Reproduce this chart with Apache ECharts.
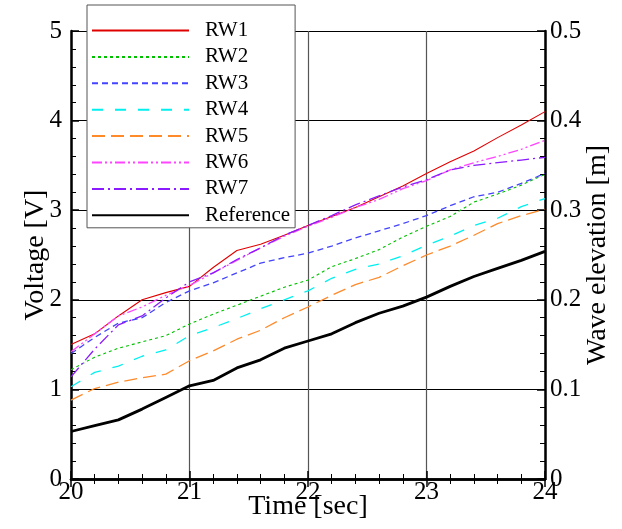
<!DOCTYPE html>
<html>
<head>
<meta charset="utf-8">
<script src="https://cdn.jsdelivr.net/npm/echarts@6/dist/echarts.min.js"></script>
<style>
html,body{margin:0;padding:0;background:#fff;}
#chart{width:622px;height:529px;}
</style>
</head>
<body>
<div id="chart"></div>
<script>
const time = [20.0,20.2,20.4,20.6,20.8,21.0,21.2,21.4,21.6,21.8,22.0,22.2,22.4,22.6,22.8,23.0,23.2,23.4,23.6,23.8,24.0];
const seriesNames = ['RW1','RW2','RW3','RW4','RW5','RW6','RW7','Reference'];
const rw1 = [1.50,1.62,1.82,2.00,2.08,2.15,2.36,2.55,2.62,2.72,2.83,2.93,3.03,3.15,3.27,3.41,3.54,3.66,3.81,3.95,4.10];
const rw2 = [1.22,1.36,1.46,1.53,1.60,1.73,1.84,1.94,2.04,2.14,2.22,2.37,2.46,2.56,2.70,2.82,2.93,3.09,3.18,3.28,3.40];
const rw3 = [1.40,1.58,1.74,1.80,1.97,2.10,2.19,2.30,2.41,2.47,2.52,2.60,2.69,2.77,2.85,2.94,3.05,3.15,3.20,3.30,3.41];
const rw4 = [1.03,1.19,1.26,1.37,1.44,1.60,1.69,1.79,1.90,2.00,2.10,2.24,2.34,2.40,2.49,2.61,2.71,2.83,2.91,3.04,3.13];
const rw5 = [0.88,1.01,1.08,1.13,1.17,1.32,1.43,1.56,1.66,1.80,1.92,2.05,2.17,2.25,2.38,2.50,2.60,2.72,2.85,2.94,3.01];
const rw6 = [1.42,1.62,1.82,1.92,2.05,2.16,2.30,2.44,2.58,2.71,2.82,2.92,3.03,3.12,3.24,3.33,3.45,3.53,3.60,3.68,3.78];
const rw7 = [1.14,1.45,1.72,1.82,2.02,2.20,2.30,2.45,2.58,2.72,2.83,2.94,3.06,3.16,3.26,3.34,3.45,3.50,3.53,3.56,3.59];
const reference = [0.53,0.595,0.66,0.78,0.91,1.04,1.10,1.24,1.33,1.46,1.54,1.62,1.745,1.85,1.93,2.03,2.15,2.26,2.35,2.44,2.54];
const voltageTicks = [0,1,2,3,4,5];
const waveTicks = [0,0.1,0.2,0.3,0.4,0.5];
const timeTicks = [20,21,22,23,24];

const values = [rw1,rw2,rw3,rw4,rw5,rw6,rw7,reference];
const colors = ['#e00000','#00c000','#4444ff','#00f0f0','#ff8a2a','#ff44ff','#8a1aff','#000000'];
const dashes = ['solid',[3,3],[6,4],[11,12],[13,6],[10,3,2,3,2,3],[12,4,2,4],'solid'];
const widths = [1.1,1.1,1.3,1.3,1.3,1.3,1.3,2.8];

const FONT = 'Liberation Serif';
const chart = echarts.init(document.getElementById('chart'));

const series = seriesNames.map((n,k)=>({
  name:n, type:'line', symbol:'none', xAxisIndex:0, yAxisIndex:0,
  data: time.map((t,i)=>[t, values[k][i]]),
  lineStyle:{color:colors[k], width:widths[k], type:dashes[k]},
  itemStyle:{color:colors[k]},
  z: k===7 ? 3 : 2
}));

const tickCommon = {inside:true, length:8, lineStyle:{color:'#000', width:1.5}};
const minorCommon = {show:true, splitNumber:5, length:5, lineStyle:{color:'#000', width:1}};
const axisLineCommon = {show:true, lineStyle:{color:'#000', width:2.5}};

chart.setOption({
  animation:false,
  backgroundColor:'#fff',
  grid:{left:71, right:77, top:31, bottom:50, containLabel:false, outerBoundsMode:'none'},
  legend:{
    data:seriesNames, orient:'vertical', left:87, top:5,
    selectedMode:false,
    backgroundColor:'#fff', borderColor:'#555', borderWidth:1,
    padding:[15,5,2,4],
    itemWidth:97, itemHeight:14, itemGap:5.4,
    itemStyle:{color:'rgba(0,0,0,0)', borderWidth:0, opacity:0},
    textStyle:{fontFamily:FONT, fontSize:21, color:'#000', lineHeight:20, padding:[0,0,0,11]}
  },
  xAxis:[{
    type:'value', min:timeTicks[0], max:timeTicks[timeTicks.length-1], interval:1, position:'bottom',
    name:'Time [sec]', nameLocation:'middle', nameGap:14, nameMoveOverlap:false,
    nameTextStyle:{fontFamily:FONT, fontSize:28, color:'#000'},
    axisLine:axisLineCommon, axisTick:tickCommon, minorTick:minorCommon,
    axisLabel:{fontFamily:FONT, fontSize:25, color:'#000', margin:1},
    splitLine:{show:true, lineStyle:{color:'#555', width:1.2}}
  },{
    type:'value', min:timeTicks[0], max:timeTicks[timeTicks.length-1], interval:1, position:'top',
    axisLine:axisLineCommon, axisTick:tickCommon, minorTick:minorCommon,
    axisLabel:{show:false}, splitLine:{show:false}
  }],
  yAxis:[{
    type:'value', min:voltageTicks[0], max:voltageTicks[voltageTicks.length-1], interval:1, position:'left',
    name:'Voltage [V]', nameLocation:'middle', nameGap:21, nameRotate:90, nameMoveOverlap:false,
    nameTextStyle:{fontFamily:FONT, fontSize:28, color:'#000'},
    axisLine:axisLineCommon, axisTick:tickCommon, minorTick:minorCommon,
    axisLabel:{fontFamily:FONT, fontSize:25, color:'#000', margin:9},
    splitLine:{show:true, lineStyle:{color:'#000', width:1.2}}
  },{
    type:'value', min:waveTicks[0], max:waveTicks[waveTicks.length-1], interval:0.1, position:'right',
    name:'Wave elevation [m]', nameLocation:'middle', nameGap:39, nameRotate:90, nameMoveOverlap:false,
    nameTextStyle:{fontFamily:FONT, fontSize:28, color:'#000'},
    axisLine:axisLineCommon, axisTick:tickCommon, minorTick:minorCommon,
    axisLabel:{fontFamily:FONT, fontSize:25, color:'#000', margin:5,
      formatter:v=>String(+v.toFixed(1))},
    splitLine:{show:false}
  }],
  series:series
});
</script>
</body>
</html>
